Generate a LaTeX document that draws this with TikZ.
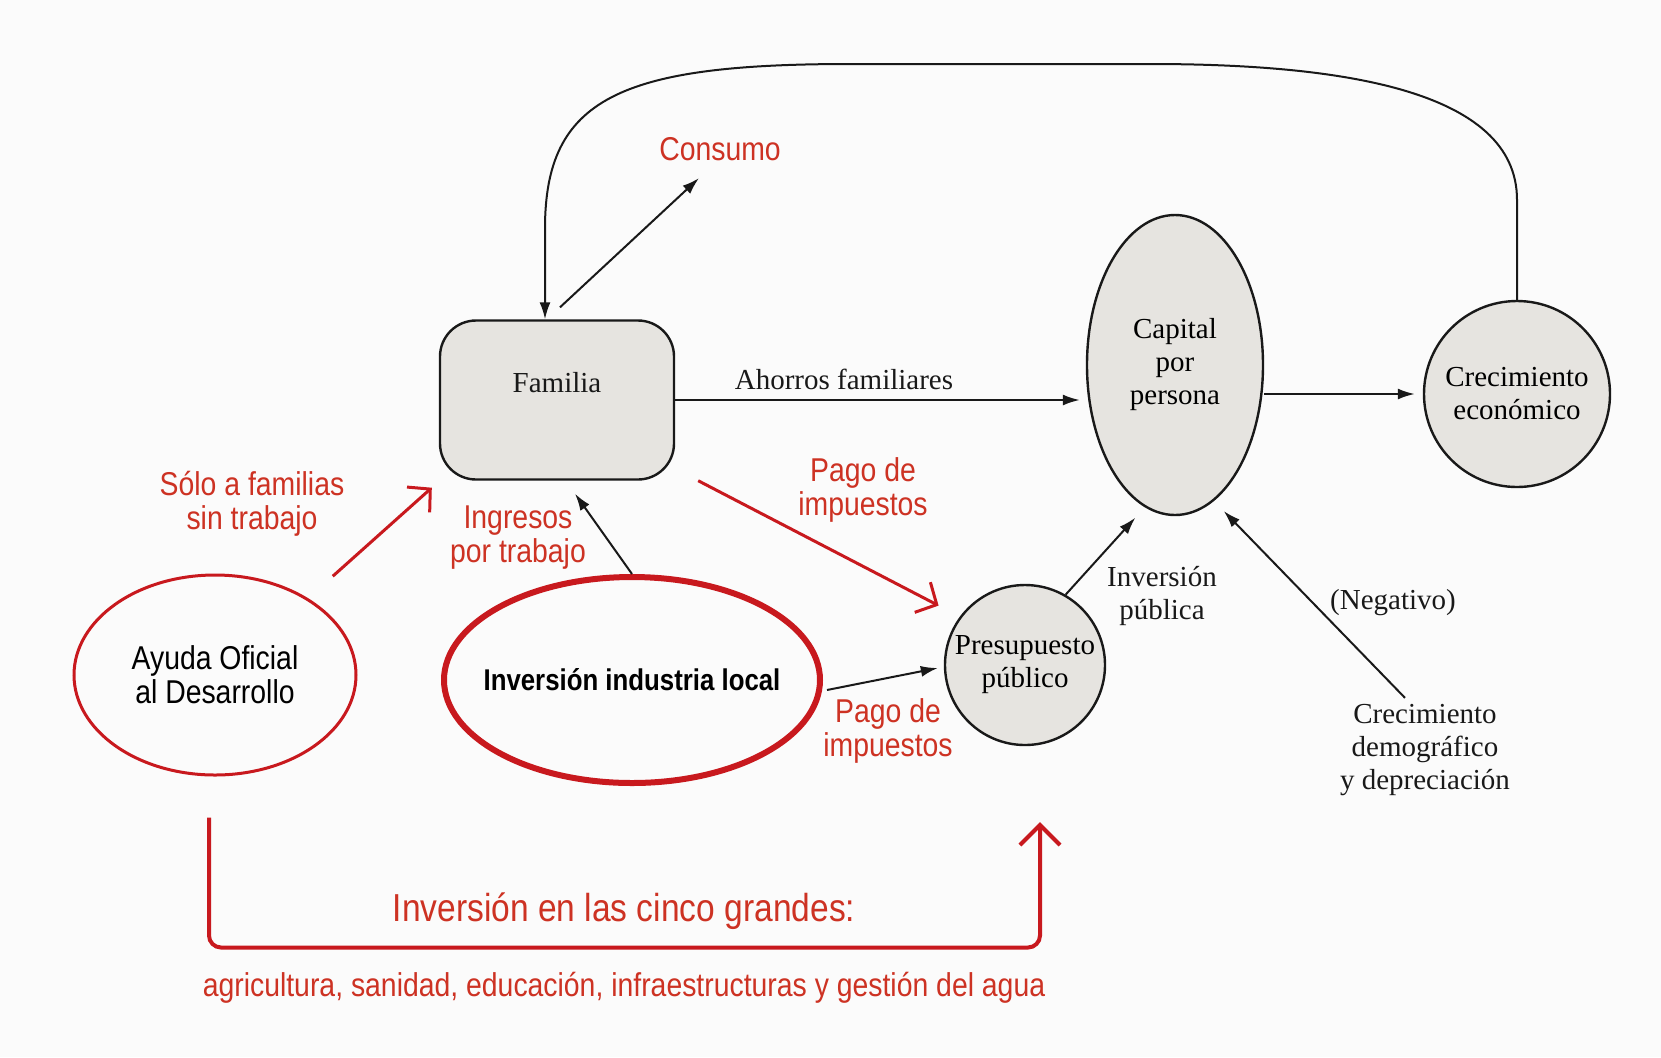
\documentclass[tikz,border=0pt]{standalone}
\usepackage{fontspec}
\setmainfont{Liberation Serif}
\newfontfamily\labelfont[FakeStretch=0.86]{Liberation Sans}
\usetikzlibrary{shapes.geometric,arrows.meta,calc}
\definecolor{aodcolor0000}{RGB}{251,251,251}
\definecolor{aodcolor0001}{RGB}{25,25,25}
\definecolor{aodcolor0002}{RGB}{230,228,224}
\definecolor{aodcolor0003}{RGB}{200,25,30}
\definecolor{aodcolor0004}{RGB}{205,50,35}

\begin{document}
\begin{tikzpicture}[x=0.5pt,y=-0.5pt
,pstyle1/.style={draw=aodcolor0001,fill=aodcolor0002,line width=1.2pt,inner sep=0pt,align=center,font=\fontsize{14.5}{16.5}\selectfont}
,pstyle2/.style={color=aodcolor0001,line width=1pt,-{Latex[length=8.5pt,width=5.5pt]}}
,pstyle3/.style={color=aodcolor0003,line width=1.5pt,-{Straight Barb[length=8pt,width=17pt]}}
,pstyle4/.style={color=aodcolor0001,inner sep=0pt,align=center,font=\fontsize{14.5}{16.5}\selectfont}
,pstyle5/.style={color=aodcolor0004,inner sep=0pt,align=center,font=\labelfont\fontsize{16.5}{17}\selectfont}
,pstyle6/.style={draw=aodcolor0003,line width=1.5pt,inner sep=0pt,align=center,font=\labelfont\fontsize{16.5}{17}\selectfont}
,pstyle7/.style={color=aodcolor0003,line width=2pt,-{Straight Barb[length=10pt,width=20pt]}}
]
\fill[aodcolor0000] (0,0) rectangle (1661,1057);
\node[pstyle1,rectangle,rounded corners=18pt,minimum width=117pt,minimum height=79.5pt,label={[pstyle4,yshift=8.5pt]center:Familia}] (fam) at (557,400) {};
\node[pstyle1,ellipse,minimum width=88pt,minimum height=150pt] (cap) at (1175,365) {Capital\\por\\persona};
\node[pstyle1,circle,minimum size=93pt] (crec) at (1517,394) {Crecimiento\\económico};
\node[pstyle1,circle,minimum size=80pt] (pres) at (1025,665) {Presupuesto\\público};
\node[pstyle6,ellipse,minimum width=141pt,minimum height=100pt] (aod) at (215,675) {Ayuda Oficial\\al Desarrollo};
\node[pstyle6,ellipse,line width=3pt,minimum width=188pt,minimum height=103pt,label={[font=\labelfont\bfseries\fontsize{15}{17}\selectfont]center:Inversión industria local}] (ind) at (632,680) {};
\node[pstyle4] (ahorros) at (844,379) {Ahorros familiares};
\node[pstyle5] (consumo) at (720,149) {Consumo};
\node[pstyle5] (pago1) at (863,490) {Pago de\\impuestos};
\node[pstyle5] (ingresos) at (518,538) {Ingresos\\por trabajo};
\node[pstyle5] (solo) at (252,504) {Sólo a familias\\sin trabajo};
\node[pstyle5] (pago2) at (888,731) {Pago de\\impuestos};
\node[pstyle4] (invpub) at (1162,596) {Inversión\\pública};
\node[pstyle4] (negativo) at (1393,603) {(Negativo)};
\node[pstyle4] (demo) at (1425,750) {Crecimiento\\demográfico\\y depreciación};
\node[pstyle5,font=\labelfont\fontsize{19.5}{21}\selectfont] (cinco) at (624,911) {Inversión en las cinco grandes:};
\node[pstyle5] (sectores) at (624,988) {agricultura, sanidad, educación, infraestructuras y gestión del agua};
\coordinate (looptopR) at (1150,64);
\coordinate (looptopL) at (850,64);
\draw[pstyle2] (crec.north) -- ++(0,-100) .. controls +(0,-110) and +(190,0) .. (looptopR) -- (looptopL) .. controls +(-230,0) and +(0,-130) .. ($(fam.north)+(-12,-91)$) -- ($(fam.north)+(-12,0)$);
\draw[pstyle2] ($(fam.north)+(3,-12)$) -- ($(consumo.south)+(-21,17)$);
\draw[pstyle2,shorten >=3pt] (fam.east) -- (fam.east -| cap.west);
\draw[pstyle2,shorten >=4pt] (cap.east |- crec.west) -- (crec.west);
\draw[pstyle3] ($(fam.south east)+(23,0)$) -- ($(pres.north west)+(-29,-2)$);
\draw[pstyle2] (ind.north) -- ($(fam.south)+(18,13)$);
\draw[pstyle3] ($(aod.north east)+(17,-27)$) -- ($(fam.south west)+(-7,7)$);
\draw[pstyle2] ($(ind.east)+(4,10)$) -- ($(pres.west)+(-6,3)$);
\draw[pstyle2,shorten >=7pt] (pres.60) -- (cap.258);
\draw[pstyle2,shorten >=7pt] ($(demo.north)+(-20,-6)$) -- (cap.286);
\draw[pstyle7,rounded corners=6pt] ($(aod.south)+(-6,41)$) -- ++(0,130) -| ($(pres.south)+(15,76)$);
\end{tikzpicture}
\end{document}
